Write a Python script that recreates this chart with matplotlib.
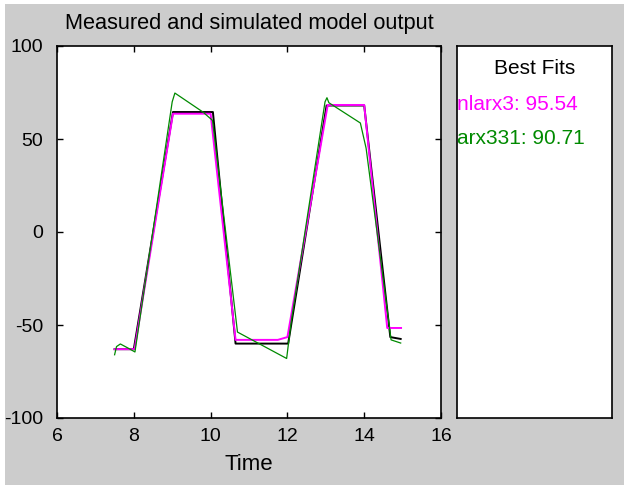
import matplotlib
matplotlib.use("Agg")
import matplotlib.pyplot as plt
from matplotlib.patches import Rectangle

plt.rcParams['font.family'] = ['Liberation Sans', 'DejaVu Sans']
plt.rcParams['axes.unicode_minus'] = False

# measured output
t_meas = [7.5, 8.0, 9.02, 10.06, 10.65, 12.02, 13.02, 14.0, 14.68, 14.95]
y_meas = [-63, -63, 64.5, 64.5, -60, -60, 68, 68, -56.5, -57.5]

# nlarx3 simulated output
t_nl = [7.5, 8.02, 9.02, 10.0, 10.65, 11.75, 12.0, 13.05, 14.0, 14.6, 14.6, 14.96]
y_nl = [-63, -63, 63.6, 63.6, -58, -58, -56.5, 68.3, 68.3, -51.6, -51.6, -51.6]

# arx331 simulated output
t_arx = [7.5, 7.55, 7.65, 7.85, 8.03, 9.0, 9.07, 9.8, 10.05, 10.7, 11.98, 12.1,
         12.98, 13.03, 13.08, 13.9, 14.05, 14.7, 14.95]
y_arx = [-66, -61.6, -60.2, -62.4, -64.5, 70, 74.7, 64.5, 60, -53.8, -68, -48,
         70, 72.2, 69.5, 58.6, 45, -58, -59.7]

fit_labels = ['nlarx3: 95.54', 'arx331: 90.71']
fit_colors = ['#ff00ff', '#008a00']

W, H = 624, 487
fig = plt.figure(figsize=(W / 100, H / 100), dpi=100, facecolor='white')
fig.patches.append(Rectangle((5 / W, 2 / H), 1, (H - 6) / H, transform=fig.transFigure,
                             facecolor='#cccccc', edgecolor='none', zorder=-10))


def px_axes(x0, y0, x1, y1):
    return fig.add_axes([x0 / W, 1 - y1 / H, (x1 - x0) / W, (y1 - y0) / H])


ax = px_axes(57, 46, 441, 418)
ax.plot(t_meas, y_meas, color='black', lw=1.4)
ax.plot(t_nl, y_nl, color=fit_colors[0], lw=1.4)
ax.plot(t_arx, y_arx, color=fit_colors[1], lw=0.9)
ax.set_xlim(6, 16)
ax.set_ylim(-100, 100)
ax.set_xticks([6, 8, 10, 12, 14, 16])
ax.set_yticks([-100, -50, 0, 50, 100])
ax.tick_params(direction='in', length=4, width=1, top=True, right=True,
               labelsize=14, colors='black')
ax.tick_params(axis='x', pad=7)
ax.tick_params(axis='y', pad=10)
for s in ax.spines.values():
    s.set_linewidth(1.2)
ax.set_xlabel('Time', fontsize=16, labelpad=7)
ax.set_title('Measured and simulated model output', fontsize=15.7, pad=12)

ax2 = px_axes(457, 46, 612, 418)
ax2.set_xticks([])
ax2.set_yticks([])
for s in ax2.spines.values():
    s.set_linewidth(1.2)
ax2.text(0.5, 0.939, 'Best Fits', ha='center', va='center', fontsize=15,
         transform=ax2.transAxes)
for i, (lab, c) in enumerate(zip(fit_labels, fit_colors)):
    ax2.text(0.0, 0.842 - i * 0.091, lab, ha='left', va='center', fontsize=15,
             color=c, transform=ax2.transAxes)

fig.savefig('out.png', dpi=100)
